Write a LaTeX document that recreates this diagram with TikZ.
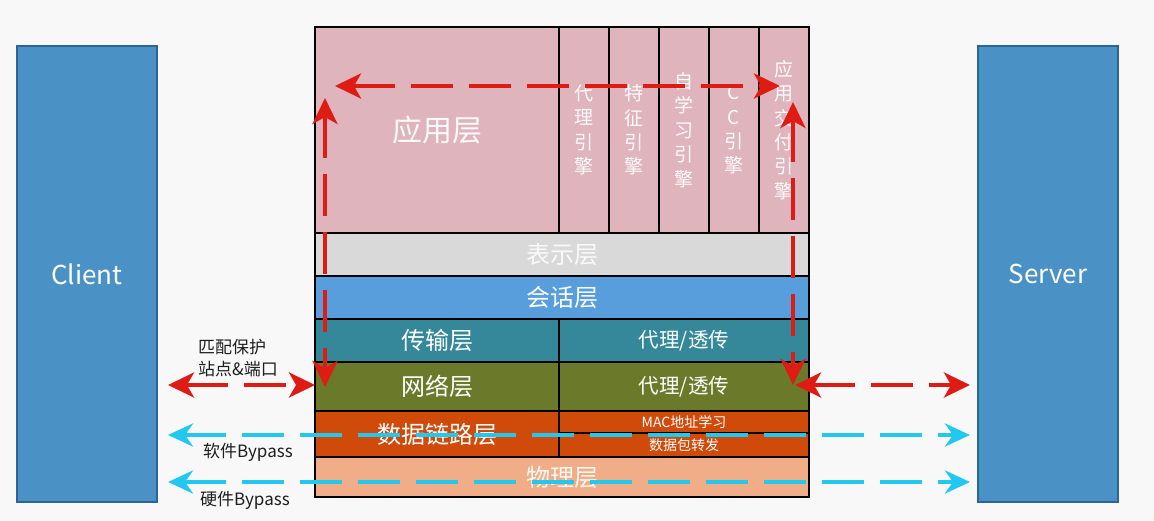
\documentclass[tikz,border=0pt]{standalone}
\usepackage{fontspec}
\setmainfont{Noto Sans CJK SC}
\usetikzlibrary{arrows.meta}
\definecolor{bgc}{RGB}{248,248,248}
\definecolor{appc}{RGB}{223,180,188}
\definecolor{presc}{RGB}{217,217,217}
\definecolor{sessc}{RGB}{88,158,220}
\definecolor{transc}{RGB}{52,136,153}
\definecolor{netc}{RGB}{107,122,42}
\definecolor{dlc}{RGB}{208,74,10}
\definecolor{physc}{RGB}{240,173,136}
\definecolor{endc}{RGB}{74,146,198}
\definecolor{endb}{RGB}{45,100,150}
\definecolor{redc}{RGB}{222,28,20}
\definecolor{bluec}{RGB}{34,200,240}
\definecolor{labc}{RGB}{30,30,30}
\tikzset{
  x=1pt, y=-1pt,
  layer/.style={draw=black, line width=1.5pt, inner sep=0pt, text=white, font=\fontsize{24}{28}\selectfont},
  endbox/.style={draw=endb, line width=1.2pt, fill=endc, inner sep=0pt, minimum width=140pt, minimum height=456pt, text=white, font=\fontsize{26}{30}\selectfont},
  eng/.style={layer, fill=appc, minimum width=50pt, minimum height=206pt, align=center, font=\fontsize{19}{24.4}\selectfont, text=white!95!appc},
  redarr/.style={draw=redc, line width=4pt, dash pattern=on 42pt off 16pt, {Stealth[length=26pt,width=25pt,inset=7pt]}-{Stealth[length=26pt,width=25pt,inset=7pt]}},
  bluearr/.style={draw=bluec, line width=4pt, dash pattern=on 42pt off 16pt, {Stealth[length=25pt,width=23pt,inset=8pt]}-{Stealth[length=25pt,width=23pt,inset=8pt]}},
  lab/.style={text=labc, font=\fontsize{17}{22}\selectfont, align=left, anchor=west, inner sep=0pt}
}
\begin{document}
\begin{tikzpicture}
\fill[bgc] (0,0) rectangle (1154,521);
\useasboundingbox (0,0) rectangle (1154,521);
% end hosts
\node[endbox] (client) at (87,274) {Client};
\node[endbox] (server) at (1048,274) {Server};
% application layer
\node[layer, fill=appc, minimum width=244pt, minimum height=206pt, font=\fontsize{30}{34}\selectfont, text=white!92!appc] (app) at (437,130) {应用层};
\node[eng] (e1) at (584,130) {代\\理\\引\\擎};
\node[eng] (e2) at (634,130) {特\\征\\引\\擎};
\node[eng] (e3) at (684,130) {自\\学\\习\\引\\擎};
\node[eng] (e4) at (734,130) {C\\C\\引\\擎};
\node[eng] (e5) at (784,130) {应\\用\\交\\付\\引\\擎};
% other layers
\node[layer, fill=presc, minimum width=494pt, minimum height=43pt, text=white!85!presc] (pres) at (562,254.5) {表示层};
\node[layer, fill=sessc, minimum width=494pt, minimum height=43pt] (sess) at (562,297.5) {会话层};
\node[layer, fill=transc, minimum width=244pt, minimum height=43pt] (transL) at (437,340.5) {传输层};
\node[layer, fill=transc, minimum width=250pt, minimum height=43pt, font=\fontsize{20.5}{24}\selectfont] (transR) at (684,340.5) {代理/透传};
\node[layer, fill=netc, minimum width=244pt, minimum height=49pt] (netL) at (437,386.5) {网络层};
\node[layer, fill=netc, minimum width=250pt, minimum height=49pt, font=\fontsize{20.5}{24}\selectfont] (netR) at (684,386.5) {代理/透传};
\node[layer, fill=dlc, minimum width=244pt, minimum height=46pt] (dlL) at (437,434) {数据链路层};
\node[layer, fill=dlc, minimum width=250pt, minimum height=22pt, font=\fontsize{14}{16}\selectfont] (dlR1) at (684,422) {MAC地址学习};
\node[layer, fill=dlc, minimum width=250pt, minimum height=24pt, font=\fontsize{14}{16}\selectfont] (dlR2) at (684,445) {数据包转发};
\node[layer, fill=physc, minimum width=494pt, minimum height=40pt, text=white!90!physc] (phys) at (562,477) {物理层};
% labels
\node[lab] (l1) at (198,358) {匹配保护\\站点\&端口};
\node[lab] (l2) at (203,452) {软件Bypass};
\node[lab] (l3) at (200,500) {硬件Bypass};
% arrow end points
\coordinate (rhL) at (335,86);
\coordinate (rhR) at (780,86);
\coordinate (rvLt) at (325,98);
\coordinate (rvLb) at (325,387);
\coordinate (rvRt) at (793,102);
\coordinate (rvRb) at (793,385);
\coordinate (rlA) at (168,385);
\coordinate (rlB) at (315,385);
\coordinate (rrA) at (795,385);
\coordinate (rrB) at (970,385);
\coordinate (b1A) at (168,435);
\coordinate (b1B) at (970,435);
\coordinate (b2A) at (168,482);
\coordinate (b2B) at (970,482);
% arrows
\draw[bluearr] (b1A) -- (b1B);
\draw[bluearr] (b2A) -- (b2B);
\draw[redarr] (rhL) -- (rhR);
\draw[redarr] (rvLt) -- (rvLb);
\draw[redarr] (rvRt) -- (rvRb);
\draw[redarr] (rlA) -- (rlB);
\draw[redarr] (rrA) -- (rrB);
\end{tikzpicture}
\end{document}
